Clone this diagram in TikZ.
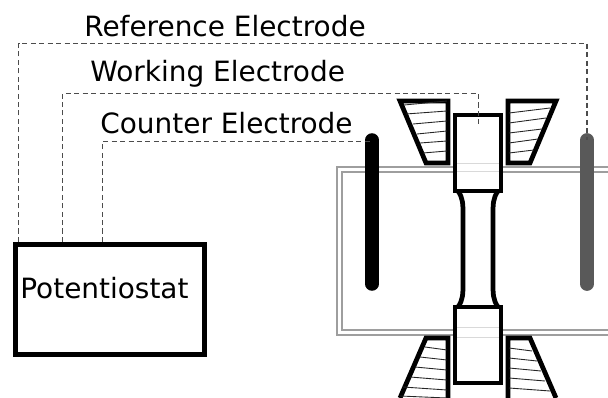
\documentclass[tikz,border=0pt]{standalone}
\usepackage{fontspec}
\setmainfont{DejaVu Sans}
\definecolor{tankgray}{gray}{0.62}
\definecolor{refgray}{gray}{0.35}
\definecolor{wiregray}{gray}{0.3}
\tikzset{
  wire/.style={wiregray,line width=0.7pt,dash pattern=on 2.9pt off 1.9pt},
  tank/.style={tankgray,line width=0.8pt},
  heavy/.style={black,line width=2.7pt,line join=miter},
  hatch/.style={black!85,line width=0.5pt},
  label/.style={inner sep=0pt,anchor=base west,font=\fontsize{15.9}{18}\selectfont},
}
\begin{document}
\begin{tikzpicture}[x=0.02cm,y=-0.02cm]
\path[use as bounding box] (0,0) rectangle (608,398);
% bath
\draw[tank] (608,167) -- (337,167) -- (337,335) -- (608,335);
\draw[tank] (608,172) -- (342,172) -- (342,330) -- (608,330);
% electrodes
\coordinate (ceTop) at (372,140);
\coordinate (ceEnd) at (372,284);
\coordinate (reTop) at (587,140);
\coordinate (reEnd) at (587,284);
\coordinate (weEnd) at (478.5,125);
\draw[black,line width=7.7pt,line cap=round] (ceTop) -- (ceEnd);
\draw[refgray,line width=7.8pt,line cap=round] (reTop) -- (reEnd);
% wedges, top
\draw[heavy,fill=white] (400,101) -- (448,101) -- (448,163) -- (426,163) -- cycle;
\draw[heavy,fill=white] (556,101) -- (508,101) -- (508,163) -- (530,163) -- cycle;
\foreach \xa/\ya/\xb/\yb in {404/105/447/101,406/114/447/111,413/124/447/121,417/134/447/131,420/143/447/141,423/153/447/151}
  \draw[hatch] (\xa,\ya) -- (\xb,\yb);
\foreach \xa/\ya/\xb/\yb in {509/113/550/108,509/123/546/118,509/133/542/129,509/143/538/139,509/153/534/150}
  \draw[hatch] (\xa,\ya) -- (\xb,\yb);
% wedges, bottom
\draw[heavy,fill=white] (400,398) -- (426,338) -- (448,338) -- (448,398);
\draw[heavy,fill=white] (556,398) -- (530,338) -- (508,338) -- (508,398);
\foreach \xa/\ya/\xb/\yb in {425/347/447/350,420/357/447/360,415/367/447/370,410/377/447/380,403/387/447/390,400/396/447/398}
  \draw[hatch] (\xa,\ya) -- (\xb,\yb);
\foreach \xa/\ya/\xb/\yb in {509/348/532/351,509/358/537/361,509/368/541/371,509/378/545/381,509/388/550/391}
  \draw[hatch] (\xa,\ya) -- (\xb,\yb);
% specimen
\draw[heavy] (458,191) .. controls (463,198) and (463,204) .. (463,215) -- (463,283) .. controls (463,294) and (463,300) .. (458,307);
\draw[heavy] (498,191) .. controls (493,198) and (493,204) .. (493,215) -- (493,283) .. controls (493,294) and (493,300) .. (498,307);
% grips
\draw[heavy,fill=white] (455,115) rectangle (501,191);
\draw[heavy,fill=white] (455,307) rectangle (501,383);
\draw[black!15,line width=0.4pt] (457,163) -- (499,163) (457,171) -- (499,171);
\draw[black!15,line width=0.4pt] (457,327) -- (499,327) (457,337) -- (499,337);
% potentiostat
\node[draw,black,line width=2.9pt,outer sep=0pt,minimum width=189.5*0.02cm,minimum height=110*0.02cm,anchor=north west,inner sep=0pt] (pot) at (15.3,244.3) {};
\node[label] (potLabel) at (20,298) {Potentiostat};
% leads
\coordinate (reStart) at (18.5,242);
\coordinate (weStart) at (62.5,242);
\coordinate (ceStart) at (102.5,242);
\draw[wire] (reStart) -- (18.5,43.5) -- (587,43.5) -- (reTop);
\draw[wire] (weStart) -- (62.5,93.5) -- (478.5,93.5) -- (weEnd);
\draw[wire] (ceStart) -- (102.5,141.5) -- (ceTop |- 0,141.5);
\node[label] (reLabel) at (84,37) {Reference Electrode};
\node[label] (weLabel) at (90,82) {Working Electrode};
\node[label] (ceLabel) at (100,134) {Counter Electrode};
\end{tikzpicture}
\end{document}
